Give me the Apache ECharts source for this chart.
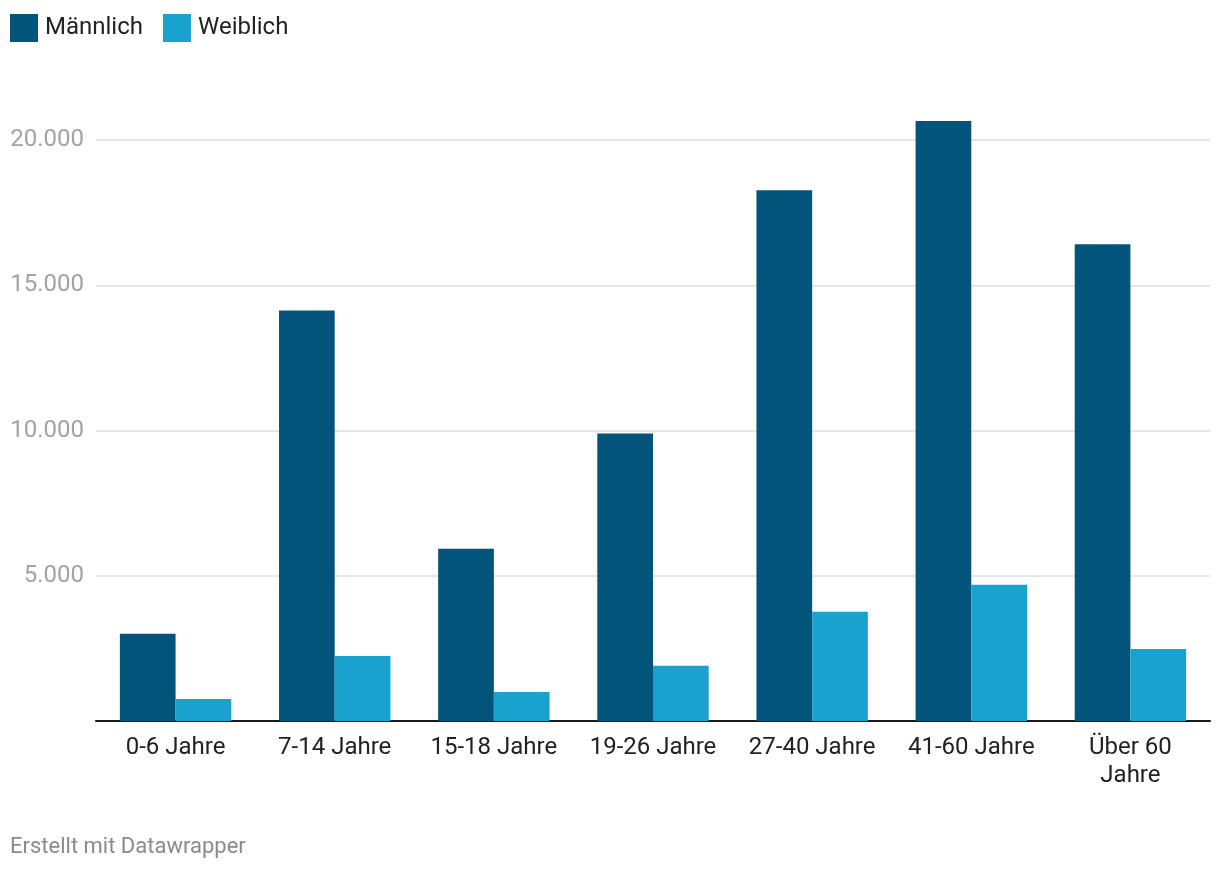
<!DOCTYPE html>
<html>
<head>
<meta charset="utf-8">
<script src="https://cdn.jsdelivr.net/npm/echarts@6/dist/echarts.min.js"></script>
<style>
html,body{margin:0;padding:0;background:#fff;}
#chart{width:1220px;height:872px;}
</style>
</head>
<body>
<div id="chart"></div>
<script>
const categories = ['0-6 Jahre', '7-14 Jahre', '15-18 Jahre', '19-26 Jahre', '27-40 Jahre', '41-60 Jahre', 'Über 60\nJahre'];
const maleValues = [3000, 14130, 5930, 9900, 18270, 20650, 16410];
const femaleValues = [760, 2240, 1000, 1900, 3760, 4690, 2480];
const seriesNames = ['Männlich', 'Weiblich'];
const yTicks = [0, 5000, 10000, 15000, 20000];

const chart = echarts.init(document.getElementById('chart'), null, {renderer: 'canvas'});
const font = 'Roboto, "Noto Sans", sans-serif';
chart.setOption({
  animation: false,
  textStyle: {fontFamily: font},
  legend: {
    left: 10, top: 14, padding: 0,
    itemWidth: 28, itemHeight: 28, itemGap: 20,
    icon: 'rect',
    textStyle: {fontSize: 24, color: '#222', fontFamily: font, padding: [0, 0, 0, 2]},
    data: seriesNames
  },
  graphic: [{
    type: 'text', left: 10, top: 836,
    style: {text: 'Erstellt mit Datawrapper', fill: '#8a8a8a', fontSize: 22, fontFamily: font}
  }],
  grid: {left: 96, right: 10, top: 140, bottom: 151, containLabel: false},
  xAxis: {
    type: 'category',
    data: categories,
    axisLine: {show: true, lineStyle: {color: '#1a1a1a', width: 2}},
    axisTick: {show: false},
    axisLabel: {fontSize: 24, color: '#222', margin: 13, lineHeight: 28, interval: 0, fontFamily: font}
  },
  yAxis: {
    type: 'value',
    min: yTicks[0], max: yTicks[yTicks.length - 1], interval: 5000,
    axisLine: {show: false},
    axisTick: {show: false},
    splitLine: {lineStyle: {color: '#e6e6e6', width: 2}},
    axisLabel: {
      fontSize: 24, color: '#a3a3a3', margin: 12, fontFamily: font,
      formatter: v => v === 0 ? '' : v.toLocaleString('de-DE')
    }
  },
  series: [
    {name: seriesNames[0], type: 'bar', data: maleValues, clip: false,
     itemStyle: {color: '#03547b'}, barGap: '0%', barCategoryGap: '30%'},
    {name: seriesNames[1], type: 'bar', data: femaleValues, clip: false,
     itemStyle: {color: '#19a2cd'}, barGap: '0%', barCategoryGap: '30%'}
  ]
});
</script>
</body>
</html>
